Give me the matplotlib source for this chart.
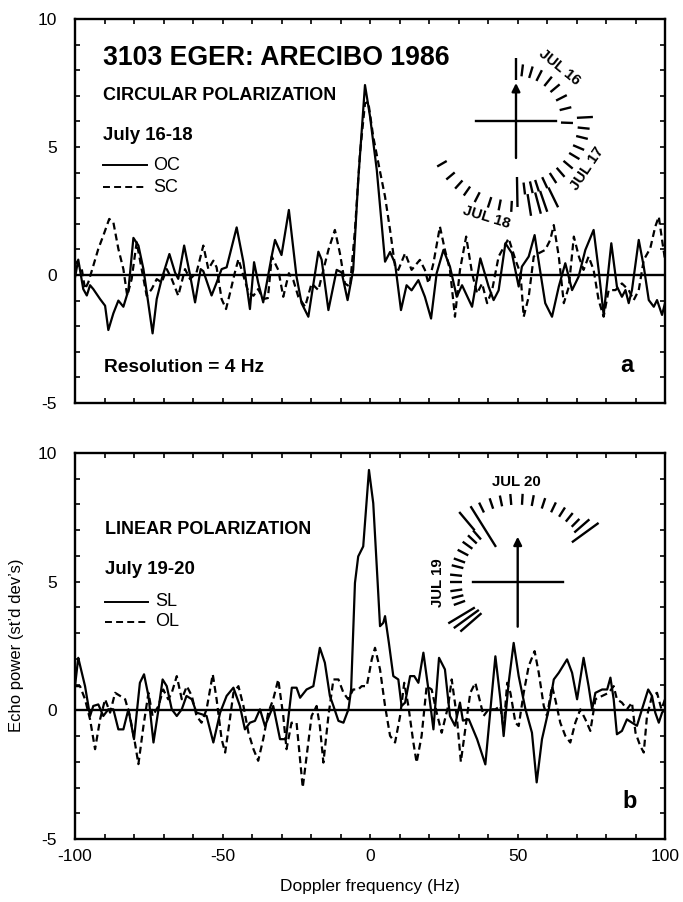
import matplotlib
matplotlib.use('Agg')
import matplotlib.pyplot as plt
import numpy as np
from matplotlib.ticker import MultipleLocator

plt.rcParams['font.family'] = ['Liberation Sans', 'DejaVu Sans']
plt.rcParams['lines.scale_dashes'] = False
plt.rcParams['axes.unicode_minus'] = False

# ---------------- data (panel a: circular polarization) ----------------
freq_oc = [-100, -98.9, -97.2, -96.0, -94.9, -93.8, -91.5, -89.8, -88.7, -87.0, -85.3, -83.6,
           -81.9, -80.2, -78.5, -76.8, -73.7, -72.3, -70.6, -68.0, -66.1, -65.0, -63.0, -61.0,
           -59.3, -57.4, -56.5, -53.7, -52.0, -50.3, -48.6, -45.2, -42.9, -40.7, -39.3, -37.9,
           -36.2, -33.3, -32.2, -30.0, -27.5, -24.9, -23.2, -20.9, -17.5, -16.4, -14.1, -11.3,
           -9.6, -7.6, -5.7, -4.0, -1.7, 0.0, 2.3, 5.1, 6.8, 8.5, 10.5, 12.4, 14.1, 16.4, 18.6,
           20.7, 22.6, 24.9, 27.1, 29.4, 31.2, 34.6, 37.4, 40.2, 41.9, 43.6, 45.9, 48.1, 50.4,
           51.5, 53.8, 55.8, 57.8, 59.4, 61.7, 64.0, 66.2, 68.5, 70.7, 73.0, 75.8, 77.5, 79.2,
           81.8, 83.7, 85.4, 86.6, 87.7, 88.8, 91.1, 92.8, 94.5, 96.2, 97.3, 99.0, 100]
pow_oc = [-0.1, 0.6, -0.55, -0.8, -0.4, -0.55, -0.94, -1.2, -2.15, -1.5, -1.0, -1.24,
          -0.6, 1.45, 1.15, 0.23, -2.28, -0.94, -0.15, 0.82, 0.1, -0.15, 1.15, 0.0,
          -1.07, 0.23, 0.15, -0.8, -0.3, 0.23, 0.3, 1.86, 0.5, -1.33, 0.5, -0.3,
          -1.07, 0.75, 1.37, 0.78, 2.54, -0.07, -1.1, -1.63, 0.91, 0.6, -1.37, 0.2,
          0.1, -0.98, 0.2, 3.7, 7.42, 6.2, 4.1, 0.52, 0.9, 0.45, -1.37, -0.4, -0.6, -0.2, -0.85,
          -1.7, 0.07, 0.98, 0.33, -0.85, -0.4, -1.24, 0.65, -0.45, -0.98, -0.6, 1.24, 0.85, -0.45,
          0.33, 0.72, 1.56, 0.07, -1.1, -1.63, -0.45, 0.46, -0.59, -0.07, 0.98, 1.76, 0.2, -1.56,
          1.24, -0.45, -0.85, -0.59, -1.1, -0.59, 1.37, 0.33, -0.98, -1.24, -0.98, -1.56, -1.1]

freq_sc = [-100.0, -97.7, -96.6, -95.5, -93.8, -92.1, -90.4, -88.4, -87.0, -85.3, -83.6, -82.3,
           -80.8, -79.1, -77.4, -75.7, -74.0, -72.3, -70.6, -68.9, -67.2, -65.0, -62.7, -61.0,
           -58.8, -56.5, -54.8, -53.1, -52.0, -50.3, -48.8, -47.4, -45.8, -44.6, -42.9, -41.2,
           -39.5, -37.9, -36.2, -34.6, -33.3, -31.1, -29.4, -27.5, -26.0, -24.3, -22.0, -19.8,
           -17.5, -15.8, -14.1, -11.9, -10.2, -8.5, -6.8, -5.1, -3.4, -1.7, -0.6, 1.1, 3.4, 5.1,
           6.8, 8.5, 9.6, 11.9, 14.1, 16.9, 18.6, 19.8, 21.5, 23.7, 25.4, 27.1, 28.8, 30.5,
           32.6, 34.6, 36.3, 38.0, 39.7, 41.4, 43.6, 47.0, 49.3, 51.0, 52.1, 53.8, 55.5, 57.2,
           59.4, 61.1, 62.3, 64.0, 65.7, 67.4, 69.1, 70.8, 72.4, 74.1, 75.8, 77.5, 79.2, 80.9,
           83.2, 85.4, 87.7, 89.4, 91.1, 92.8, 95.0, 96.7, 97.9, 99.0, 100]
pow_sc = [0.56, 0.23, -0.55, -0.29, 0.36, 1.02, 1.54, 2.19, 2.06, 1.02, 0.23, -0.81,
          -0.16, 1.28, 0.23, -0.81, -0.55, -0.16, -0.29, 0.23, -0.16, -0.81, 0.23, -0.16,
          0.1, 1.15, 0.23, 0.56, 0.3, -0.94, -1.33, -0.68, 0.1, 0.62, -0.03, -0.68,
          -0.81, -0.55, -0.94, -0.9, 0.72, 0.2, -0.85, 0.07, -0.2, -0.85, -1.24, -0.33,
          -0.59, 0.2, 0.98, 1.76, 0.85, -0.33, -0.46, 1.76, 4.75, 6.7, 6.77, 5.4, 4.04, 3.06,
          1.76, 0.33, 0.2, 0.85, 0.2, 0.59, 0.2, -0.33, 0.46, 1.89, 0.98, 0.2, -1.63, 0.2,
          1.5, 0.07, -0.72, -0.33, -1.1, -0.59, 0.72, 1.43, 0.59, 0.07, -1.63, -0.85, 0.72, 0.85,
          0.98, 1.37, 1.95, 0.72, -1.1, -0.46, 1.5, 0.72, 0.2, 0.72, 0.2, -0.98, -1.63, -0.59,
          -0.59, -0.33, -0.59, -0.98, -0.59, 0.59, 1.04, 1.89, 2.28, 1.37, 0.6]

# ---------------- data (panel b: linear polarization) ----------------
freq_sl = [-100, -98.9, -96.6, -94.9, -93.8, -92.1, -90.4, -88.7, -87.0, -85.3, -83.6, -81.9,
           -80.0, -78.0, -76.6, -75.1, -73.4, -71.7, -70.3, -68.9, -67.2, -65.5, -63.8, -62.2,
           -60.4, -58.8, -57.1, -55.4, -53.1, -50.8, -48.6, -46.3, -44.1, -42.4, -40.7, -39.0,
           -37.3, -35.6, -32.8, -30.5, -28.5, -26.5, -24.9, -23.7, -21.5, -19.2, -17.0, -15.3,
           -13.6, -12.4, -10.7, -9.0, -7.3, -6.4, -5.1, -4.0, -2.3, -0.35, 1.1, 2.6, 3.4, 4.5,
           5.1, 6.4, 7.9, 9.6, 10.7, 11.9, 13.6, 15.0, 16.4, 18.1, 19.8, 21.5, 23.4, 25.4, 27.1,
           28.8, 30.5, 31.5, 33.5, 36.3, 39.1, 42.5, 44.2, 45.3, 47.0, 48.7, 50.4, 52.7, 54.9,
           56.5, 58.3, 60.6, 62.3, 64.0, 66.8, 68.5, 70.2, 72.4, 74.1, 75.3, 76.4, 78.7, 80.4,
           81.5, 82.6, 83.7, 85.4, 87.1, 88.8, 90.5, 92.2, 94.3, 95.6, 96.7, 97.9, 99.0, 100]
pow_sl = [0.94, 2.04, 0.94, -0.22, 0.17, 0.23, -0.22, 0.04, 0.04, -0.74, -0.74, 0.04,
          -1.12, 1.07, 1.4, 0.56, -1.25, 0.04, 1.2, 0.94, 0.04, -0.22, 0.04, 0.56,
          0.43, -0.09, -0.15, -0.22, -1.25, -0.09, 0.56, 0.88, 0.17, -0.74, -0.48, -0.41,
          0.04, -0.61, 0.17, -1.12, -1.12, 0.88, 0.88, 0.49, 0.81, 0.94, 2.43, 1.85,
          0.56, 0.17, -0.41, -0.48, 0.04, 0.81, 4.95, 5.98, 6.37, 9.34, 8.05, 4.95, 3.27, 3.4,
          3.66, 2.62, 1.33, 1.2, 0.17, 0.3, 1.33, 1.33, 1.07, 2.24, 0.81, -0.74, 2.04, 1.59, -0.22,
          -0.6, 0.3, -0.4, -0.35, -1.12, -2.1, 2.1, 0.43, -1.0, 1.07, 2.62, 1.33, 0.04, -0.87,
          -2.8, -1.12, 0.04, 1.2, 1.46, 1.98, 1.46, 0.43, 2.04, 0.94, 0.04, 0.68, 0.81, 0.81,
          1.27, 0.43, -0.93, -0.8, -0.35, -0.48, -0.6, 0.04, 0.81, 0.56, -0.09, -0.48, -0.09, 0.04]

freq_ol = [-100.0, -98.3, -96.6, -94.9, -93.2, -91.5, -89.8, -88.1, -86.4, -84.7, -83.0, -81.4,
           -79.7, -78.5, -76.8, -75.1, -73.7, -71.7, -70.1, -68.4, -67.2, -65.5, -63.8, -62.1,
           -60.4, -58.8, -57.1, -55.4, -53.3, -52.0, -50.3, -49.1, -47.5, -46.3, -44.6, -42.9,
           -41.2, -39.5, -37.9, -36.2, -34.5, -32.8, -31.1, -29.4, -28.3, -26.6, -24.9, -22.8,
           -19.8, -18.1, -17.0, -15.8, -14.1, -12.4, -10.7, -9.0, -7.4, -5.7, -4.0, -2.8, -1.1,
           0.6, 1.7, 3.4, 5.1, 6.8, 8.5, 10.2, 11.6, 13.0, 14.7, 15.8, 17.5, 19.2, 20.9, 22.6,
           24.3, 26.5, 27.7, 29.4, 30.8, 32.9, 34.0, 35.7, 37.4, 38.5, 40.2, 42.5, 44.2, 45.3,
           46.5, 47.6, 49.3, 50.4, 52.1, 53.8, 55.8, 57.2, 58.9, 60.0, 61.7, 62.8, 64.5, 66.2,
           67.9, 69.6, 71.3, 73.0, 74.7, 76.4, 78.7, 80.9, 82.6, 83.7, 85.4, 87.1, 88.8, 90.0,
           91.6, 92.8, 93.9, 95.6, 97.3, 98.8, 100]
pow_ol = [0.94, 0.94, 0.43, -0.35, -1.51, -0.35, 0.43, -0.09, 0.68, 0.56, 0.43, -0.22,
          -1.25, -2.09, -0.61, 0.68, -0.22, 0.17, 0.81, 0.43, 0.68, 1.33, 0.43, 0.94,
          0.56, -0.22, -0.48, 0.04, 1.4, 0.43, -1.12, -1.64, -0.35, 0.68, 0.94, 0.17,
          -0.87, -1.51, -1.96, -1.12, -0.09, 0.43, 1.2, -0.22, -1.51, -0.48, -0.48, -3.0,
          -0.22, 0.17, -0.61, -2.03, -0.22, 1.2, 1.2, 0.68, 0.43, 0.81, 0.81, 0.94, 0.94,
          1.98, 2.43, 1.59, 0.17, -0.99, -1.25, -0.22, 1.07, 0.17, -1.25, -2.03, -0.99, 0.94, 0.81, -0.09,
          -0.87, 0.17, 1.2, -0.22, -2.0, -0.22, 0.68, 1.07, 0.3, -0.22, 0.04, 0.04, 0.17, -0.74,
          1.07, 0.68, -0.48, -0.61, 0.68, 1.72, 2.3, 1.46, 0.17, -0.22, 0.94, 0.43, -0.48, -0.99,
          -1.25, -0.48, 0.04, -0.35, -0.8, 0.43, 0.56, 0.68, 0.94, 0.43, 0.3, 0.04, 0.3, -0.87,
          -1.38, -1.64, -0.22, 0.56, 0.68, 0.04, 0.43]

# ---------------- inset (sky-track) diagram parameters ----------------
# panel a: tick angles (deg, counter-clockwise from east)
a_track1 = [83, 73, 63, 51, 40, 27, 14, -2]
a_track2 = [-6, -14, -23, -31, -40, -49, -57, -65, -72, -77, -83]
a_track3 = [-93, -101, -108, -117, -125, -132, -140, -150]
a_track3_long = [-64, -71, -75, -81]
a_long = [(90, 41, 63), (3, 61, 77), (-89, 56, 86)]
a_labels = [("JUL 16", 51, 69, -39), ("JUL 17", -34, 86, 56), ("JUL 18", -107, 101, -17)]

# panel b
b_track1 = [-160, -166, -172, 180, 174, 166, 160, 152, 144, 137, 131]
b_track2 = [116, 108.6, 101.7, 94.8, 86.8, 79.5, 71.8, 64.3, 57.5, 51.3, 45.5]
b_long = [(-139, 48, 76), (-144, 48, 79), (-149, 50, 81), (122, 41, 89), (130, 67, 91),
          (41, 75, 95), (36, 67, 100)]
b_labels = [("JUL 20", 90.5, 100, 0), ("JUL 19", 181, 80, 90)]

W, H = 683, 902
fig = plt.figure(figsize=(6.83, 9.02), dpi=100)


def fx(px):
    return px / W


def fy(py):
    return 1 - py / H


ax_a = fig.add_axes([fx(75), fy(403), (665 - 75) / W, (403 - 19) / H])
ax_b = fig.add_axes([fx(75), fy(839), (665 - 75) / W, (839 - 453) / H])

for ax in (ax_a, ax_b):
    ax.set_xlim(-100, 100)
    ax.set_ylim(-5, 10)
    ax.xaxis.set_major_locator(MultipleLocator(50))
    ax.xaxis.set_minor_locator(MultipleLocator(10))
    ax.yaxis.set_major_locator(MultipleLocator(5))
    ax.yaxis.set_minor_locator(MultipleLocator(1))
    ax.tick_params(which='both', direction='in', top=True, right=True,
                   length=3.8, width=1.2, labelsize=12.5, colors='k')
    ax.tick_params(axis='y', pad=13)
    ax.tick_params(axis='x', pad=7)
    for s in ax.spines.values():
        s.set_linewidth(1.7)
    ax.axhline(0, color='k', lw=1.7, zorder=1)

ax_a.tick_params(labelbottom=False)

ax_a.plot(freq_oc, pow_oc, color='k', lw=1.6, zorder=3)
ax_a.plot(freq_sc, pow_sc, color='k', lw=1.6, dashes=(5, 3), zorder=2)
ax_b.plot(freq_sl, pow_sl, color='k', lw=1.6, zorder=3)
ax_b.plot(freq_ol, pow_ol, color='k', lw=1.6, dashes=(5, 3), zorder=2)

# overlay in pixel coordinates for annotations and insets
ov = fig.add_axes([0, 0, 1, 1], zorder=5)
ov.set_xlim(0, W)
ov.set_ylim(H, 0)
ov.axis('off')
ov.patch.set_alpha(0)


def txt(x, y, s, **kw):
    kw.setdefault('va', 'center')
    kw.setdefault('ha', 'left')
    ov.text(x, y, s, **kw)


# panel a texts
txt(103, 58, "3103 EGER: ARECIBO 1986", fontsize=19.2, fontweight='bold')
txt(103, 96, "CIRCULAR POLARIZATION", fontsize=13, fontweight='bold')
txt(103, 136, "July 16-18", fontsize=13.4, fontweight='bold')
ov.plot([103, 147], [165, 165], color='k', lw=1.4)
ov.plot([103, 147], [187, 187], color='k', lw=1.4, dashes=(5, 3))
txt(153, 165, "OC", fontsize=13)
txt(153, 187, "SC", fontsize=13)
txt(104, 368, "Resolution = 4 Hz", fontsize=13.8, fontweight='bold')
txt(627, 366, "a", fontsize=17, fontweight='bold', ha='center')

# panel b texts
txt(105, 530, "LINEAR POLARIZATION", fontsize=13, fontweight='bold')
txt(105, 570, "July 19-20", fontsize=13.4, fontweight='bold')
ov.plot([105, 148], [602, 602], color='k', lw=1.4)
ov.plot([105, 148], [622, 622], color='k', lw=1.4, dashes=(5, 3))
txt(155, 602, "SL", fontsize=13)
txt(155, 622, "OL", fontsize=13)
txt(630, 802, "b", fontsize=17, fontweight='bold', ha='center')

# axis labels
txt(17, 645, "Echo power (st\u2019d dev\u2019s)", fontsize=12, rotation=90, ha='center')
txt(370, 886, "Doppler frequency (Hz)", fontsize=12.5, ha='center')


def tick(cx, cy, ang, r1, r2, lw=1.7):
    t = np.deg2rad(ang)
    ov.plot([cx + r1 * np.cos(t), cx + r2 * np.cos(t)],
            [cy - r1 * np.sin(t), cy - r2 * np.sin(t)],
            color='k', lw=lw, solid_capstyle='butt')


def cross(cx, cy, half_h, up, down):
    ov.plot([cx - half_h, cx + half_h], [cy, cy], color='k', lw=1.7)
    ov.annotate('', xy=(cx, cy - up), xytext=(cx, cy + down),
                arrowprops=dict(arrowstyle='-|>', lw=1.7, color='k',
                                mutation_scale=12, shrinkA=0, shrinkB=0))


def label(cx, cy, s, ang, r, rot):
    t = np.deg2rad(ang)
    ov.text(cx + r * np.cos(t), cy - r * np.sin(t), s, rotation=rot,
            rotation_mode='anchor', ha='center', va='center',
            fontsize=10.8, fontweight='bold')


# inset a
cxa, cya = 516, 121
cross(cxa, cya, 40, 38, 37)
for a in a_track1:
    tick(cxa, cya, a, 45, 57)
for a in a_track2:
    tick(cxa, cya, a, 62, 74)
for a in a_track3:
    tick(cxa, cya, a, 80, 91)
for a in a_track3_long:
    tick(cxa, cya, a, 74, 96)
for a, r1, r2 in a_long:
    tick(cxa, cya, a, r1, r2)
for s, a, r, rot in a_labels:
    label(cxa, cya, s, a, r, rot)

# inset b
cxb, cyb = 517.7, 581.7
cross(cxb, cyb, 45, 45, 45)
for a in b_track1:
    tick(cxb, cyb, a, 56, 68)
for a in b_track2:
    tick(cxb, cyb, a, 77, 88)
for a, r1, r2 in b_long:
    tick(cxb, cyb, a, r1, r2)
for s, a, r, rot in b_labels:
    label(cxb, cyb, s, a, r, rot)

fig.savefig('out.png', dpi=100)
